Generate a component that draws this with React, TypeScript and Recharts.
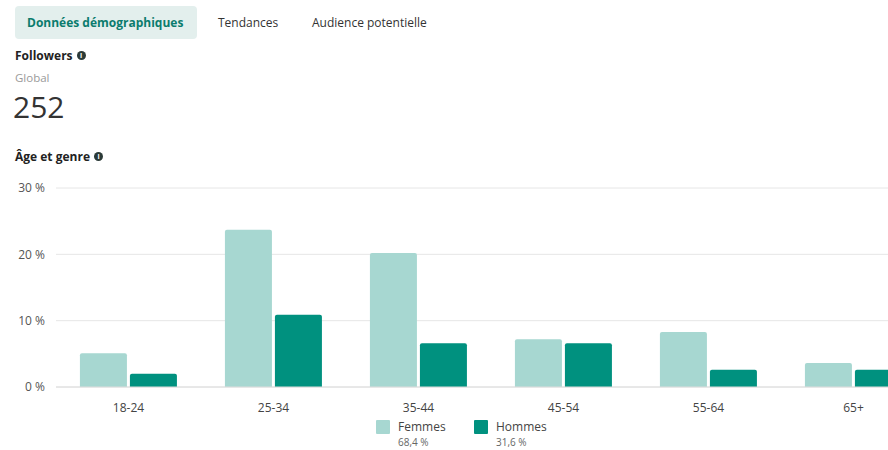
import { BarChart, Bar, XAxis, YAxis, CartesianGrid } from 'recharts';

const AGE_GROUPS = ['18-24', '25-34', '35-44', '45-54', '55-64', '65+'];
const FEMMES = [5.1, 23.7, 20.2, 7.2, 8.3, 3.6];
const HOMMES = [2.0, 10.9, 6.6, 6.6, 2.6, 2.6];
const Y_TICKS = [0, 10, 20, 30];

const TABS = ['Données démographiques', 'Tendances', 'Audience potentielle'];
const LEGEND = [
    { key: 'femmes', label: 'Femmes', share: '68,4 %', color: '#a7d7d1' },
    { key: 'hommes', label: 'Hommes', share: '31,6 %', color: '#00917f' },
];

const chartData = AGE_GROUPS.map((age, i) => ({ age, femmes: FEMMES[i], hommes: HOMMES[i] }));

const FONT = '"Open Sans", "Noto Sans", sans-serif';

const InfoDot = () => (
    <span
        style={{
            display: 'inline-block',
            width: 9,
            height: 9,
            borderRadius: '50%',
            background: '#2b3a37',
            color: '#fff',
            fontSize: 7,
            lineHeight: '9px',
            textAlign: 'center',
            marginLeft: 4,
            verticalAlign: 'middle',
            position: 'relative',
            top: -1,
        }}
    >
        i
    </span>
);

export default function App() {
    return (
        <div
            style={{
                position: 'absolute',
                left: 0,
                top: 0,
                width: 888,
                height: 450,
                overflow: 'hidden',
                background: '#fff',
                fontFamily: FONT,
                color: '#222',
            }}
        >
            {/* tabs */}
            <div style={{ position: 'absolute', left: 15, top: 6, width: 182, height: 33, background: '#e3efed', borderRadius: 4 }} />
            <div style={{ position: 'absolute', left: 27, top: 14, fontSize: 12, fontWeight: 700, color: '#0b7c6d' }}>{TABS[0]}</div>
            <div style={{ position: 'absolute', left: 218, top: 14, fontSize: 12, color: '#333' }}>{TABS[1]}</div>
            <div style={{ position: 'absolute', left: 312, top: 14, fontSize: 12, color: '#333' }}>{TABS[2]}</div>

            <div style={{ position: 'absolute', left: 15, top: 47, fontSize: 12, fontWeight: 700, color: '#222' }}>
                Followers<InfoDot />
            </div>
            <div style={{ position: 'absolute', left: 15, top: 70, fontSize: 11.5, color: '#9a9a9a' }}>Global</div>
            <div style={{ position: 'absolute', left: 13, top: 86, fontSize: 30, fontWeight: 400, color: '#333' }}>252</div>

            <div style={{ position: 'absolute', left: 15, top: 148, fontSize: 12, fontWeight: 700, color: '#222' }}>
                Âge et genre<InfoDot />
            </div>

            <div style={{ position: 'absolute', left: 0, top: 178 }}>
                <BarChart
                    width={926}
                    height={240}
                    data={chartData}
                    margin={{ top: 10, right: 0, bottom: 0, left: 0 }}
                    barCategoryGap="16.5%"
                    barGap={3}
                >
                    <CartesianGrid vertical={false} stroke="#e6e6e6" />
                    <XAxis
                        dataKey="age"
                        axisLine={{ stroke: '#dcdcdc' }}
                        tickLine={false}
                        tickMargin={10}
                        height={31}
                        tick={{ fontSize: 12, fill: '#444', fontFamily: FONT }}
                    />
                    <YAxis
                        width={56}
                        domain={[0, 30]}
                        ticks={Y_TICKS}
                        axisLine={false}
                        tickLine={false}
                        tickSize={0}
                        tickMargin={11}
                        tickFormatter={(v) => `${v} %`}
                        tick={{ fontSize: 12, fill: '#555', fontFamily: FONT }}
                    />
                    <Bar dataKey="femmes" fill={LEGEND[0].color} radius={[2, 2, 0, 0]} isAnimationActive={false} />
                    <Bar dataKey="hommes" fill={LEGEND[1].color} radius={[2, 2, 0, 0]} isAnimationActive={false} />
                </BarChart>
            </div>

            {/* legend */}
            {LEGEND.map((item, i) => {
                const left = 376 + i * 98;
                return (
                    <div key={item.key}>
                        <div style={{ position: 'absolute', left, top: 420, width: 14, height: 14, background: item.color, borderRadius: 1 }} />
                        <div style={{ position: 'absolute', left: left + 22, top: 418, fontSize: 12, color: '#444' }}>{item.label}</div>
                        <div style={{ position: 'absolute', left: left + 22, top: 435, fontSize: 10, color: '#666' }}>{item.share}</div>
                    </div>
                );
            })}
        </div>
    );
}
